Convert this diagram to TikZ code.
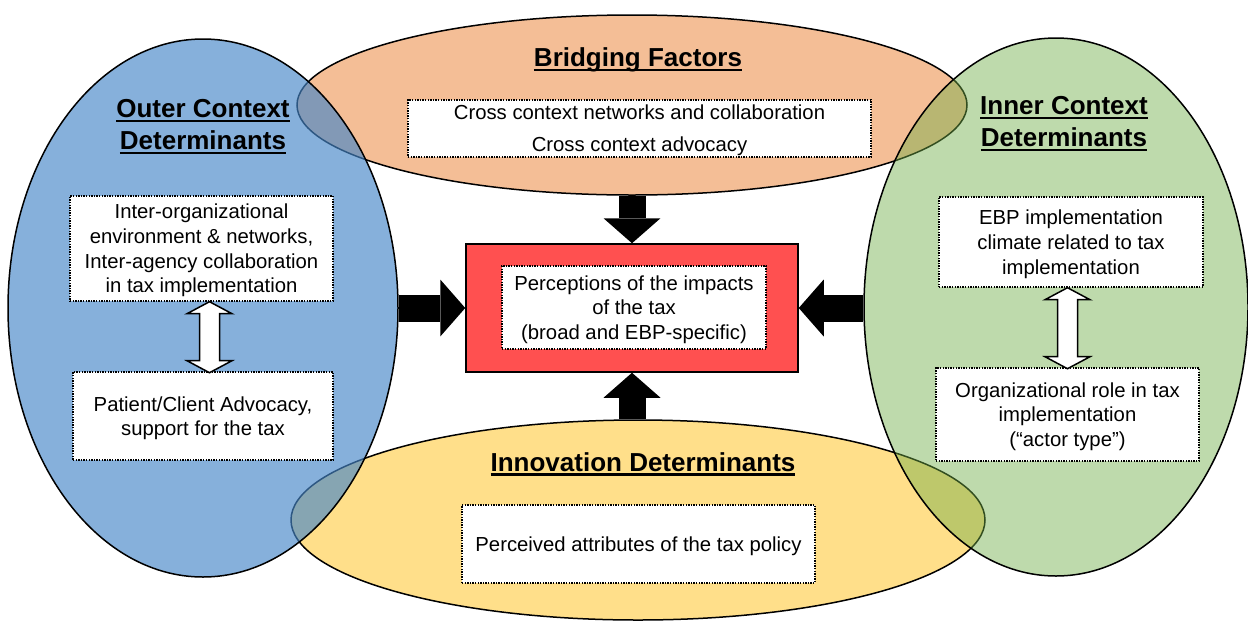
\documentclass[tikz,border=0pt]{standalone}
\usepackage{fontspec}
\setmainfont{Liberation Sans}
\usetikzlibrary{shapes.geometric,arrows.meta}

\definecolor{outerblue}{RGB}{70,134,200}
\definecolor{bridgeorange}{RGB}{244,190,150}
\definecolor{innergreen}{RGB}{112,173,71}
\definecolor{innovyellow}{RGB}{255,223,138}
\definecolor{corered}{RGB}{255,80,80}

% heading text with a heavy underline
\newcommand\headul[1]{\setbox0\hbox{#1}\rlap{\rule[-4.5pt]{\wd0}{2.4pt}}\box0}

\begin{document}
\begin{tikzpicture}[x=1pt,y=-1pt,
  region/.style={ellipse, draw=black, line width=1.5pt, inner sep=0pt},
  textbox/.style={draw=black, fill=white, line width=1.4pt,
    dash pattern=on 1.4pt off 1.2pt, align=center, inner sep=0pt,
    text depth=-2.4pt, font=\fontsize{20.3}{24.7}\selectfont},
  heading/.style={align=center, font=\fontsize{26}{32}\selectfont\bfseries},
  push/.style={line width=27pt,
    -{Triangle[length=25pt 0 0,width=57pt 0 0,line width=0pt]}},
  hollow/.style={draw=black, fill=white, line width=1.5pt, line join=miter}
]
\useasboundingbox (0,0) rectangle (1248,622);
\fill[white] (0,0) rectangle (1248,622);

% the four context regions
\node[region, fill=bridgeorange, minimum width=670pt, minimum height=180pt] (bridge) at (632,105) {};
\node[region, fill=innovyellow, minimum width=694pt, minimum height=200pt] (innov) at (638,520) {};
\node[region, fill=outerblue, fill opacity=0.65, minimum width=390pt, minimum height=538pt] (outer) at (203,308) {};
\node[region, fill=innergreen, fill opacity=0.45, minimum width=384pt, minimum height=538pt] (inner) at (1056,307) {};

% headings
\node[heading] (outerhead) at (203,127) {\headul{Outer Context}\\\headul{Determinants}};
\node[heading] (innerhead) at (1064,124) {\headul{Inner Context}\\\headul{Determinants}};
\node[heading] (bridgehead) at (638,60) {\headul{Bridging Factors}};
\node[heading] (innovhead) at (643,464) {\headul{Innovation Determinants}};

% determinant boxes
\node[textbox, minimum width=463pt, minimum height=57pt] (bridgebox) at (639.5,128.5)
  {Cross context networks and collaboration\\[7.5pt]Cross context advocacy};
\node[textbox, minimum width=263pt, minimum height=105pt] (ob1) at (201.5,248.5)
  {Inter-organizational\\environment \& networks,\\Inter-agency collaboration\\in tax implementation};
\node[textbox, minimum width=260pt, minimum height=88pt] (ob2) at (203,416)
  {Patient/Client Advocacy,\\support for the tax};
\node[textbox, minimum width=264pt, minimum height=90pt] (ib1) at (1071,242)
  {EBP implementation\\climate related to tax\\implementation};
\node[textbox, minimum width=263pt, minimum height=93pt] (ib2) at (1067.5,414.5)
  {Organizational role in tax\\implementation\\(“actor type”)};
\node[textbox, minimum width=353pt, minimum height=78pt] (innovbox) at (638.5,544)
  {Perceived attributes of the tax policy};

% central outcome
\node[draw=black, line width=1.5pt, fill=corered, minimum width=332pt, minimum height=128pt, inner sep=0pt] (core) at (632,308) {};
\node[textbox, minimum width=264pt, minimum height=83pt] (coretext) at (634,307.5)
  {Perceptions of the impacts\\of the tax\\(broad and EBP-specific)};

% influences on the outcome
\draw[push] (outer.east) -- (core.west);
\draw[push] (inner.west |- core.east) -- (core.east);
\draw[push] (bridge.south) -- (core.north);
\draw[push] (innov.north -| core.south) -- (core.south);

% two-way links inside the outer and inner contexts
\draw[hollow] ([xshift=8pt]ob1.south) -- ++(22.5,12) -- ++(-12.5,0) -- ++(0,47)
  -- ++(12.5,0) -- ++(-22.5,12) -- ++(-22.5,-12) -- ++(12.5,0) -- ++(0,-47)
  -- ++(-12.5,0) -- cycle;
\draw[hollow] (ib1.south -| ib2.north) -- ++(22.5,12) -- ++(-12.5,0) -- ++(0,57)
  -- ++(12.5,0) -- ++(-22.5,12) -- ++(-22.5,-12) -- ++(12.5,0) -- ++(0,-57)
  -- ++(-12.5,0) -- cycle;
\end{tikzpicture}
\end{document}
